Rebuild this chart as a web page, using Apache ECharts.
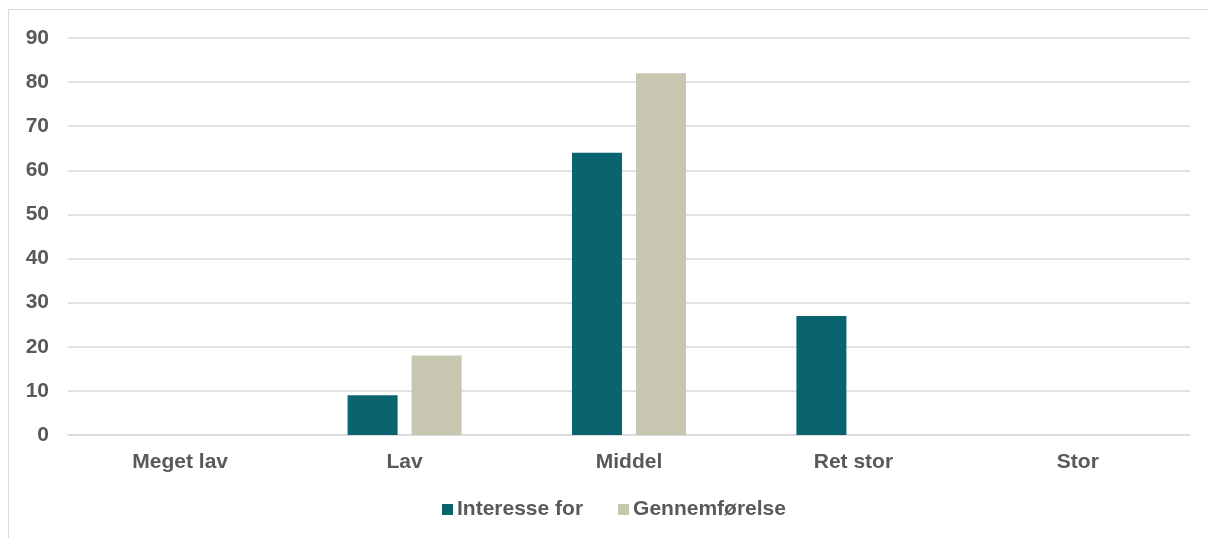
<!DOCTYPE html>
<html>
<head>
<meta charset="utf-8">
<script src="https://cdn.jsdelivr.net/npm/echarts@6/dist/echarts.min.js"></script>
<style>
  html, body { margin: 0; padding: 0; background: #fff; }
  #frame { position: absolute; left: 8px; top: 9px; width: 1220px; height: 560px;
           border: 1px solid #d9d9d9; box-sizing: border-box; }
  #chart { position: absolute; left: 0; top: 0; width: 1208px; height: 538px; }
</style>
</head>
<body>
<div id="frame"></div>
<div id="chart"></div>
<script>
// Rating categories along the x axis
const categories = ['Meget lav', 'Lav', 'Middel', 'Ret stor', 'Stor'];
// Series values (count per category)
const interesseFor = [0, 9, 64, 27, 0];
const gennemfoerelse = [0, 18, 82, 0, 0];
const seriesNames = ['Interesse for', 'Gennemførelse'];
const yTicks = [0, 10, 20, 30, 40, 50, 60, 70, 80, 90];

const textColor = '#595959';
const font = 'Liberation Sans, Arial, sans-serif';
const fontSize = 21;

const chart = echarts.init(document.getElementById('chart'), null, { renderer: 'canvas' });
chart.setOption({
  animation: false,
  textStyle: { fontFamily: font },
  grid: { left: 68, right: 18, top: 38, bottom: 103, containLabel: false },
  legend: {
    data: seriesNames,
    top: 494,
    left: 437,
    itemWidth: 11,
    itemHeight: 11,
    itemGap: 35,
    icon: 'rect',
    textStyle: { color: textColor, fontSize: fontSize, fontWeight: 'bold', fontFamily: font, padding: [0, 0, 0, -1] }
  },
  xAxis: {
    type: 'category',
    data: categories,
    axisLine: { show: true, lineStyle: { color: '#d9d9d9', width: 1.5 } },
    axisTick: { show: false },
    axisLabel: { color: textColor, fontSize: fontSize, fontWeight: 'bold', fontFamily: font, margin: 17 }
  },
  yAxis: {
    type: 'value',
    min: yTicks[0],
    max: yTicks[yTicks.length - 1],
    interval: 10,
    axisLine: { show: false },
    axisTick: { show: false },
    splitLine: { lineStyle: { color: '#d9d9d9', width: 1.5 } },
    axisLabel: { color: textColor, fontSize: fontSize, fontWeight: 'bold', fontFamily: font, margin: 19 }
  },
  series: [
    {
      name: seriesNames[0],
      type: 'bar',
      data: interesseFor,
      barWidth: 50,
      barGap: '28%',
      itemStyle: { color: '#09646f' }
    },
    {
      name: seriesNames[1],
      type: 'bar',
      data: gennemfoerelse,
      barWidth: 50,
      itemStyle: { color: '#c7c6b0' }
    }
  ]
});
</script>
</body>
</html>
